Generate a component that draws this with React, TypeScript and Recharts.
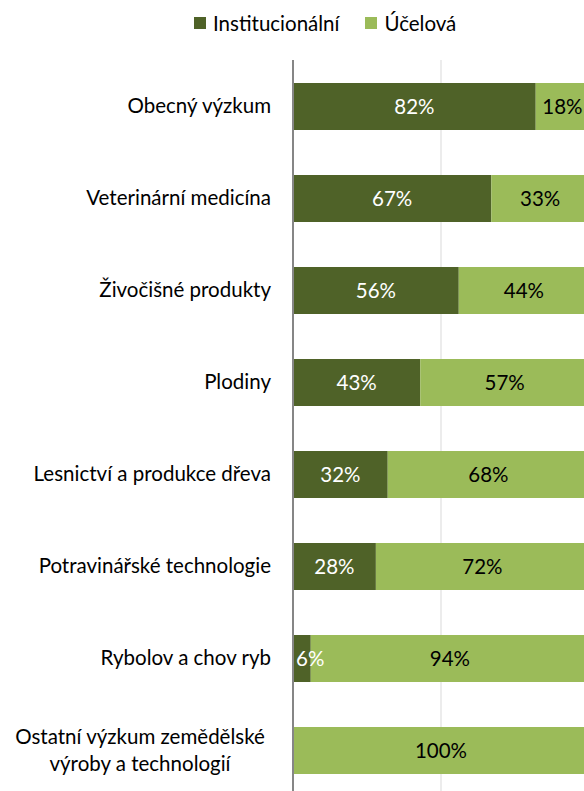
import React from 'react';
import { BarChart, Bar, XAxis, YAxis, CartesianGrid, Legend, LabelList } from 'recharts';

const categories = [
  'Obecný výzkum',
  'Veterinární medicína',
  'Živočišné produkty',
  'Plodiny',
  'Lesnictví a produkce dřeva',
  'Potravinářské technologie',
  'Rybolov a chov ryb',
  'Ostatní výzkum zemědělské výroby a technologií',
];
const institucionalni = [82, 67, 56, 43, 32, 28, 6, 0];
const ucelova = [18, 33, 44, 57, 68, 72, 94, 100];

const DARK = '#4F6228';
const LIGHT = '#9BBB59';
const FONT = 'Lato, "Open Sans", sans-serif';
const FS = 20.5;

const data = categories.map((name, i) => ({
  name,
  inst: institucionalni[i],
  uc: ucelova[i],
}));

function CategoryTick(props: any) {
  const { x, y, payload } = props;
  const label: string = payload.value;
  if (label.length > 28) {
    // wrap long label in two centred lines, like Excel does
    const words = label.split(' ');
    const first = words.slice(0, 3).join(' ');
    const second = words.slice(3).join(' ');
    const cx = x - 14 - 131;
    return (
      <text x={cx} y={y} textAnchor="middle" fontSize={FS} fontFamily={FONT} fill="#000">
        <tspan x={cx} dy={-6}>{first}</tspan>
        <tspan x={cx} dy={27}>{second}</tspan>
      </text>
    );
  }
  return (
    <text x={x - 14} y={y} dy={7} textAnchor="end" fontSize={FS} fontFamily={FONT} fill="#000">
      {label}
    </text>
  );
}

function makeLabel(color: string) {
  return (props: any) => {
    const { x, y, width, height, value } = props;
    if (!value) return null;
    const small = width < 30;
    return (
      <text
        x={small ? x + 3 : x + width / 2}
        y={y + height / 2}
        dy={7}
        textAnchor={small ? 'start' : 'middle'}
        fontSize={FS}
        fontFamily={FONT}
        fill={color}
      >
        {value}%
      </text>
    );
  };
}

function LegendContent() {
  const items = [
    { name: 'Institucionální', color: DARK },
    { name: 'Účelová', color: LIGHT },
  ];
  return (
    <div style={{ display: 'flex', fontFamily: FONT, fontSize: FS, color: '#000' }}>
      {items.map((it) => (
        <div key={it.name} style={{ display: 'flex', alignItems: 'center', marginRight: 26 }}>
          <span style={{ width: 12, height: 12, background: it.color, marginRight: 7, display: 'inline-block' }} />
          {it.name}
        </div>
      ))}
    </div>
  );
}

export default function App() {
  return (
    <div style={{ position: 'absolute', left: 0, top: 0, background: '#fff' }}>
      <BarChart
        width={600}
        height={800}
        data={data}
        layout="vertical"
        margin={{ top: 60, right: 11, bottom: 4, left: 0 }}
        barSize={47}
      >
        <CartesianGrid horizontal={false} stroke="#D9D9D9" strokeWidth={1} />
        <XAxis type="number" domain={[0, 100]} ticks={[0, 50, 100]} hide />
        <YAxis
          type="category"
          dataKey="name"
          width={293}
          tickLine={false}
          axisLine={{ stroke: '#868686', strokeWidth: 2 }}
          tick={<CategoryTick />}
          interval={0}
        />
        <Legend
          verticalAlign="middle"
          content={<LegendContent />}
          wrapperStyle={{ top: 11, left: 194, width: 'auto' }}
        />
        <Bar dataKey="inst" name="Institucionální" stackId="a" fill={DARK} isAnimationActive={false}>
          <LabelList dataKey="inst" content={makeLabel('#fff')} />
        </Bar>
        <Bar dataKey="uc" name="Účelová" stackId="a" fill={LIGHT} isAnimationActive={false}>
          <LabelList dataKey="uc" content={makeLabel('#000')} />
        </Bar>
      </BarChart>
    </div>
  );
}
